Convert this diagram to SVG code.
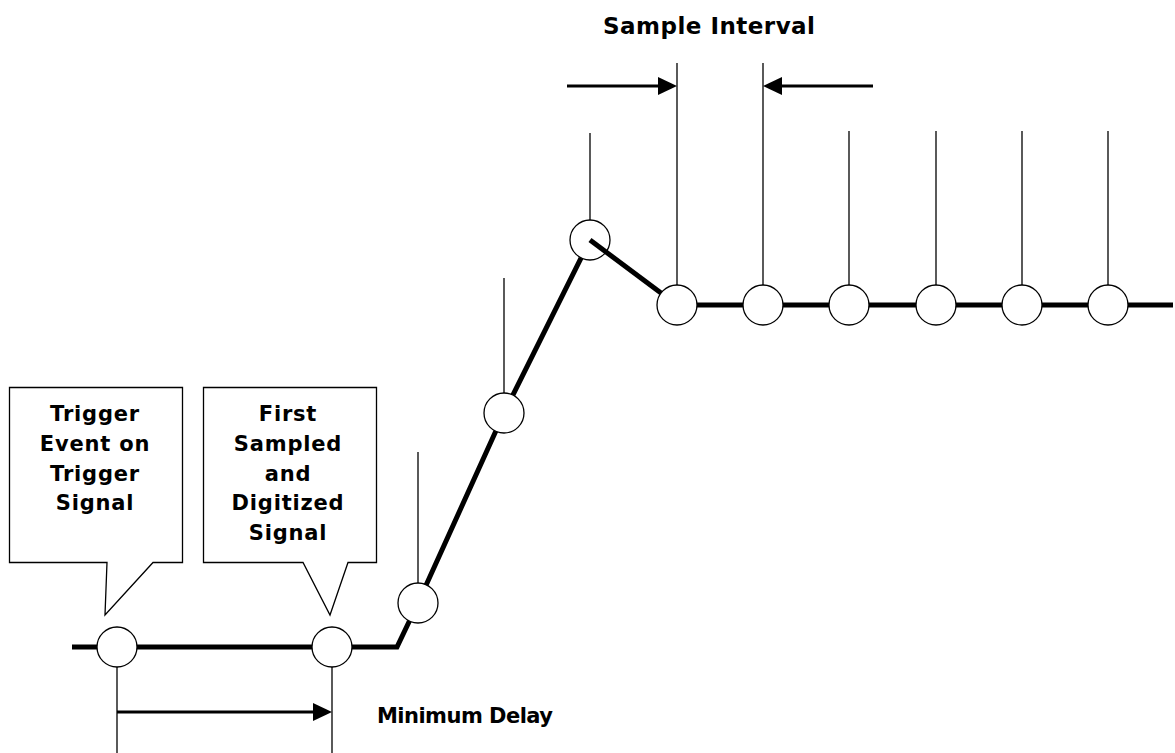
<svg xmlns="http://www.w3.org/2000/svg" width="1175" height="753" viewBox="0 0 1175 753">
<style>
.thick{stroke:#000;stroke-width:5;fill:none;stroke-linejoin:miter}
.tick{stroke:#000;stroke-width:1.3;fill:none}
.dot{fill:#fff;stroke:#000;stroke-width:1.3}
.arr{stroke:#000;stroke-width:3;fill:none}
.head{fill:#000}
.box{fill:#fff;stroke:#000;stroke-width:1.3}
text{font-family:"DejaVu Sans","Verdana",sans-serif;font-weight:bold;font-size:21px;fill:#000}
.c{text-anchor:middle;letter-spacing:0.8px}
.big{font-size:23px}
</style>
<rect width="1175" height="753" fill="#fff"/>
<g id="connectors">
  <line class="tick" x1="117" y1="667" x2="117" y2="753"/>
  <line class="tick" x1="332" y1="667" x2="332" y2="753"/>
  <line class="tick" x1="418" y1="452" x2="418" y2="583"/>
  <line class="tick" x1="504" y1="278" x2="504" y2="393"/>
  <line class="tick" x1="590" y1="133" x2="590" y2="220"/>
  <line class="tick" x1="677" y1="63" x2="677" y2="285"/>
  <line class="tick" x1="763" y1="63" x2="763" y2="285"/>
  <line class="tick" x1="849" y1="131" x2="849" y2="285"/>
  <line class="tick" x1="936" y1="131" x2="936" y2="285"/>
  <line class="tick" x1="1022" y1="131" x2="1022" y2="285"/>
  <line class="tick" x1="1108" y1="131" x2="1108" y2="285"/>
  <polyline class="thick" points="72,647 397,647 418,603 504,413 590,240"/>
  <line class="thick" x1="677" y1="305" x2="1173" y2="305"/>
  <line class="arr" x1="117" y1="712" x2="316" y2="712"/>
  <polygon class="head" points="332,712 313,703 313,721"/>
  <line class="arr" x1="567" y1="86" x2="661" y2="86"/>
  <polygon class="head" points="677,86 658,77 658,95"/>
  <line class="arr" x1="873" y1="86" x2="779" y2="86"/>
  <polygon class="head" points="763,86 782,77 782,95"/>
</g>
<g id="samples">
  <circle class="dot" cx="117" cy="647" r="20"/>
  <circle class="dot" cx="332" cy="647" r="20"/>
  <circle class="dot" cx="418" cy="603" r="20"/>
  <circle class="dot" cx="504" cy="413" r="20"/>
  <circle class="dot" cx="590" cy="240" r="20"/>
  <circle class="dot" cx="677" cy="305" r="20"/>
  <circle class="dot" cx="763" cy="305" r="20"/>
  <circle class="dot" cx="849" cy="305" r="20"/>
  <circle class="dot" cx="936" cy="305" r="20"/>
  <circle class="dot" cx="1022" cy="305" r="20"/>
  <circle class="dot" cx="1108" cy="305" r="20"/>
</g>
<g id="drop">
  <line class="thick" x1="590" y1="240" x2="661" y2="293"/>
</g>
<g id="callout-trigger">
  <path class="box" d="M9.5,387.5 H182.5 V562.5 H153 L105,615 L107,562.5 H9.5 Z"/>
  <text class="c" x="95" y="421">Trigger</text>
  <text class="c" x="95" y="451">Event on</text>
  <text class="c" x="95" y="481">Trigger</text>
  <text class="c" x="95" y="510">Signal</text>
</g>
<g id="callout-first">
  <path class="box" d="M203.5,387.5 H376.5 V562.5 H348 L330,615 L303,562.5 H203.5 Z"/>
  <text class="c" x="288" y="421">First</text>
  <text class="c" x="288" y="451">Sampled</text>
  <text class="c" x="288" y="481">and</text>
  <text class="c" x="288" y="510">Digitized</text>
  <text class="c" x="288" y="540">Signal</text>
</g>
<g id="labels">
  <text class="big" x="603" y="34" textLength="212" lengthAdjust="spacing">Sample Interval</text>
  <text x="377" y="723" textLength="176" lengthAdjust="spacing">Minimum Delay</text>
</g>
</svg>
